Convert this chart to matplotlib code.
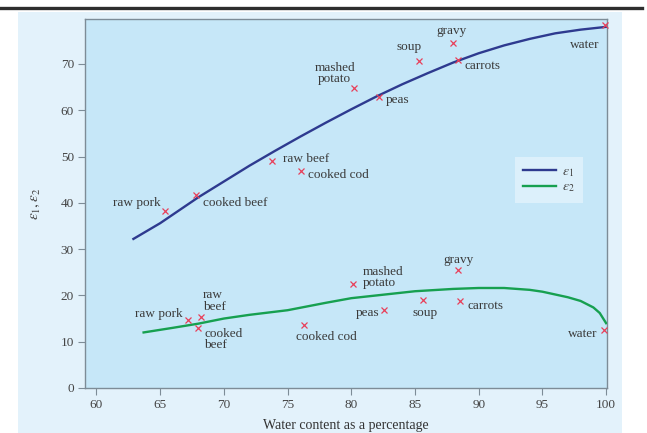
import matplotlib
matplotlib.use("Agg")
import matplotlib.pyplot as plt
from matplotlib.lines import Line2D
from matplotlib.patches import Rectangle

plt.rcParams["font.family"] = ["Liberation Serif", "DejaVu Serif"]
plt.rcParams["mathtext.fontset"] = "stix"

# Measured permittivity of foods vs water content
foods = ["raw pork", "cooked beef", "raw beef", "cooked cod", "mashed potato",
         "peas", "soup", "gravy", "carrots", "water"]
water_e1 = [65.4, 67.8, 73.8, 76.05, 80.2, 82.2, 85.3, 88.0, 88.4, 99.9]
eps1 = [38.3, 41.6, 49.0, 46.8, 64.8, 62.9, 70.7, 74.6, 70.8, 78.3]

foods2 = ["raw pork", "raw beef", "cooked beef", "cooked cod", "mashed potato",
          "peas", "soup", "gravy", "carrots", "water"]
water_e2 = [67.2, 68.2, 68.0, 76.3, 80.1, 82.6, 85.6, 88.35, 88.5, 99.86]
eps2 = [14.7, 15.4, 12.9, 13.5, 22.4, 16.8, 19.0, 25.5, 18.8, 12.5]

# Fitted trend curves
fit1_x = [62.9, 65, 68, 70, 72, 74, 76, 78, 80, 82, 84, 86, 88, 90, 92, 94, 96, 98, 100]
fit1_y = [32.2, 35.6, 41.2, 44.6, 48.0, 51.2, 54.3, 57.3, 60.2, 63.0, 65.6, 68.0,
          70.3, 72.3, 74.0, 75.4, 76.6, 77.4, 78.0]
fit2_x = [63.7, 66, 68, 70, 72, 75, 78, 80, 82, 85, 88, 90, 92, 94, 95, 97, 98, 99, 99.5, 100]
fit2_y = [12.0, 13.0, 13.9, 15.0, 15.8, 16.8, 18.4, 19.4, 20.0, 20.9, 21.4, 21.6,
          21.6, 21.2, 20.8, 19.6, 18.8, 17.4, 16.2, 14.0]

xticks = [60, 65, 70, 75, 80, 85, 90, 95, 100]
yticks = [0, 10, 20, 30, 40, 50, 60, 70]

# label text, anchor (x, y), horizontal alignment
labels1 = [("raw pork", 65.06, 40.0, "right"),
           ("cooked beef", 68.4, 39.9, "left"),
           ("raw beef", 74.66, 49.5, "left"),
           ("cooked cod", 76.6, 46.0, "left"),
           ("mashed\npotato", 78.7, 68.0, "center"),
           ("peas", 82.7, 62.2, "left"),
           ("soup", 84.5, 73.6, "center"),
           ("gravy", 87.9, 77.1, "center"),
           ("carrots", 88.85, 69.5, "left"),
           ("water", 98.3, 74.1, "center")]
labels2 = [("raw pork", 66.77, 15.9, "right"),
           ("raw\nbeef", 68.34, 18.8, "left"),
           ("cooked\nbeef", 68.44, 10.4, "left"),
           ("cooked cod", 75.66, 11.1, "left"),
           ("mashed\npotato", 80.9, 23.8, "left"),
           ("peas", 82.17, 16.3, "right"),
           ("soup", 85.8, 16.3, "center"),
           ("gravy", 88.45, 27.6, "center"),
           ("carrots", 89.14, 17.7, "left"),
           ("water", 99.34, 11.6, "right")]

W, H = 647, 433
fig = plt.figure(figsize=(W / 100, H / 100), dpi=100)
fig.patch.set_facecolor("white")

# light panel behind the chart and the rule at the top
fig.add_artist(Rectangle((18 / W, 0), (622 - 18) / W, 1 - 12 / H,
                         transform=fig.transFigure, facecolor="#e3f2fb",
                         edgecolor="none", zorder=0))
fig.add_artist(Line2D([0, 642 / W], [1 - 8 / H, 1 - 8 / H], transform=fig.transFigure,
                      color="#2e2e2e", lw=2.4, zorder=1))

ax = fig.add_axes([85 / W, 1 - 388 / H, (607 - 85) / W, (388 - 19) / H])
ax.set_facecolor("#c6e7f8")
ax.set_xlim(59.1, 100.07)
ax.set_ylim(0, 79.7)

frame_col = "#7d8c97"
for s in ax.spines.values():
    s.set_color(frame_col)
    s.set_linewidth(1.0)

ax.set_xticks(xticks)
ax.set_yticks(yticks)
ax.tick_params(direction="out", length=5, width=0.8, color=frame_col,
               labelsize=9.5, labelcolor="#444444", pad=3)

blue = "#2e3a8f"
green = "#17a050"
red = "#e8405a"

ax.plot(fit1_x, fit1_y, color=blue, lw=1.7, zorder=3, label=r"$\varepsilon_1$")
ax.plot(fit2_x, fit2_y, color=green, lw=1.7, zorder=3, label=r"$\varepsilon_2$")
ax.plot(water_e1, eps1, linestyle="none", marker="x", ms=4.8, mew=0.9,
        color=red, zorder=4, clip_on=False)
ax.plot(water_e2, eps2, linestyle="none", marker="x", ms=4.8, mew=0.9,
        color=red, zorder=4, clip_on=False)

for txt, x, y, ha in labels1 + labels2:
    ax.text(x, y, txt, ha=ha, va="center", fontsize=9.5, color="#3a3a3a",
            linespacing=0.9, zorder=5)

leg = ax.legend(loc="upper left", bbox_to_anchor=(0.81, 0.645), fontsize=10,
                handlelength=2.4, handletextpad=0.4, labelspacing=0.1,
                borderpad=0.6, frameon=True, fancybox=False)
leg.get_frame().set_facecolor("#dcf0fb")
leg.get_frame().set_edgecolor("none")
leg.get_frame().set_alpha(1)
for t in leg.get_texts():
    t.set_color("#444444")

ax.set_xlabel("Water content as a percentage", fontsize=10, color="#333333")
ax.set_ylabel(r"$\varepsilon_1, \varepsilon_2$", fontsize=11, color="#444444")
ax.xaxis.set_label_coords(0.5, -0.083)
ax.yaxis.set_label_coords(-0.083, 0.5)

fig.savefig("out.png", dpi=100)
